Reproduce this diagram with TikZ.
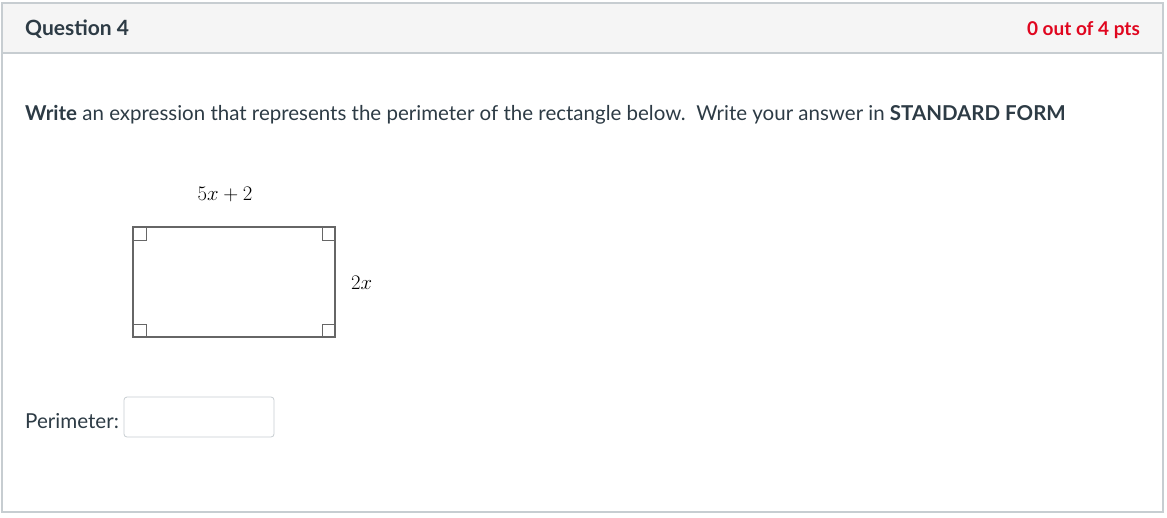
\documentclass[tikz,border=0pt]{standalone}
\usepackage{fontspec}
\setmainfont{Lato}
\definecolor{inktext}{HTML}{2D3B45}
\definecolor{scorered}{HTML}{E0061F}
\definecolor{headfill}{HTML}{F5F5F5}
\definecolor{framegray}{HTML}{C7CDD1}
\definecolor{shapegray}{HTML}{666666}
\tikzset{
  every node/.style={inner sep=0pt, text=inktext},
  sidelabel/.style={font=\fontsize{20.5}{24}\selectfont},
  corner/.style={draw=shapegray, line width=1.5pt},
}
\begin{document}
\begin{tikzpicture}[x=1pt, y=-1pt]
\useasboundingbox (0,0) rectangle (1167,517);

% question frame and header
\fill [headfill] (2,3) rectangle (1163,53);
\draw [framegray, line width=1.2pt] (2,3) rectangle (1163,512);
\draw [framegray, line width=1.2pt] (2,53) -- (1163,53);
\node [anchor=base west, font=\fontsize{21}{24}\selectfont\bfseries] (qtitle) at (25,35) {Question 4};
\node [anchor=base east, font=\fontsize{19}{24}\selectfont\bfseries, text=scorered] (score) at (1140,35) {0 out of 4 pts};

% prompt
\node [anchor=base west, font=\fontsize{20.5}{24}\selectfont] (prompt) at (25,120)
  {\textbf{Write} an expression that represents the perimeter of the rectangle below.\ \ Write your answer in \textbf{STANDARD FORM}};

% rectangle with right angle marks
\draw [corner] (133,227) rectangle (335,337);
\foreach \cx/\cy/\dx/\dy in {133/227/1/1, 335/227/-1/1, 133/337/1/-1, 335/337/-1/-1}
  \draw [corner, line width=1pt] (\cx+13*\dx,\cy) -- ++(0,13*\dy) -- ++(-13*\dx,0);
\node [sidelabel, text=black] (top-label) at (225,194) {$5x+2$};
\node [sidelabel, text=black, anchor=west] (side-label) at (351,283) {$2x$};

% answer field
\node [anchor=base west, font=\fontsize{20.6}{24}\selectfont] (perim) at (25,428) {Perimeter:};
\draw [framegray, line width=0.8pt, rounded corners=3pt] (124,397) rectangle (274,437);
\end{tikzpicture}
\end{document}
